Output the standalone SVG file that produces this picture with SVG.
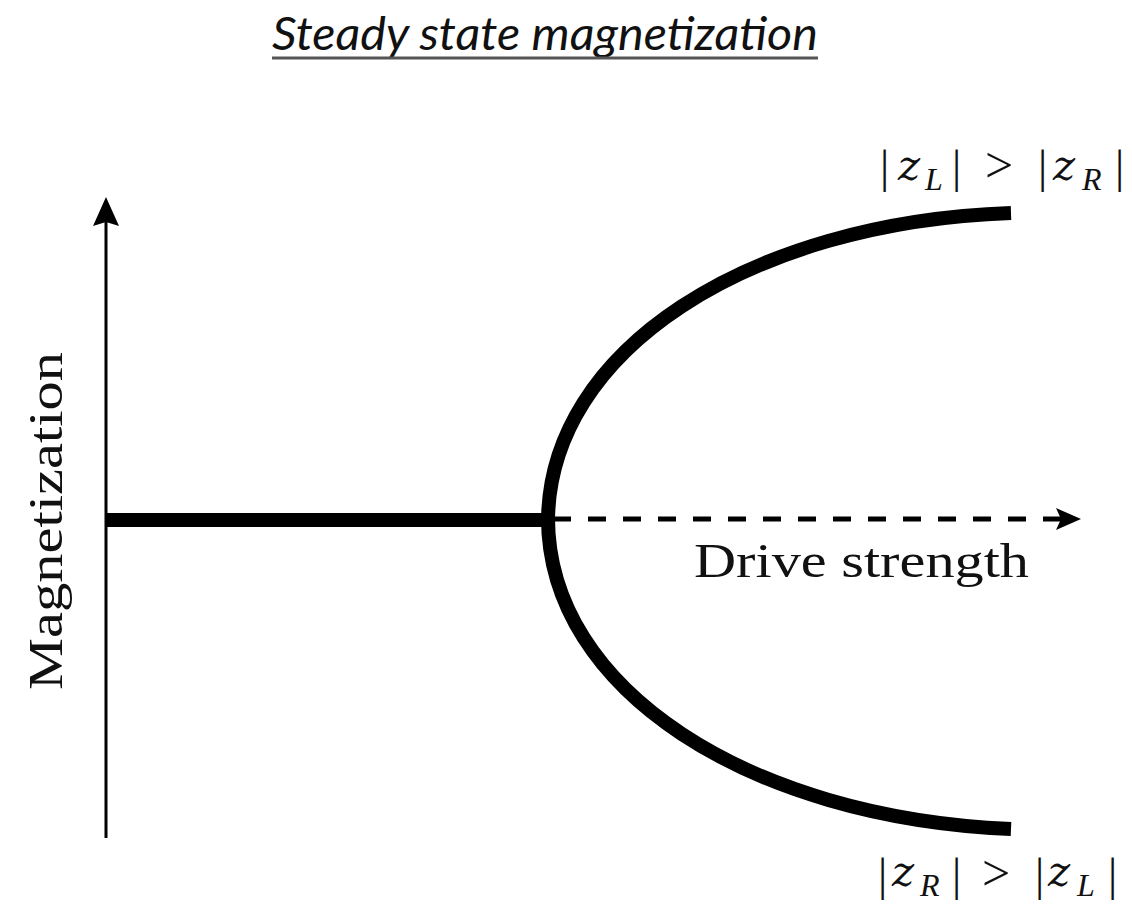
<svg xmlns="http://www.w3.org/2000/svg" width="1132" height="911" viewBox="0 0 1132 911">
  <style>
    .serif { font-family: "Liberation Serif", "DejaVu Serif", serif; fill: #111; }
    .ital { font-style: italic; }
    .mz { font-family: "DejaVu Serif", "Liberation Serif", serif; font-style: italic; }
    .thick { fill: none; stroke: #000; stroke-width: 14; }
  </style>
  <rect width="1132" height="911" fill="#fff"/>

  <g id="title">
    <text x="272" y="50" font-family="Lato, 'Open Sans', sans-serif" font-style="italic" font-size="47" fill="#111" textLength="546" lengthAdjust="spacingAndGlyphs">Steady state magnetization</text>
    <line x1="272" y1="58" x2="818" y2="58" stroke="#555" stroke-width="3"/>
  </g>

  <g id="connectors">
    <line id="y-axis" x1="106" y1="838" x2="106" y2="220" stroke="#000" stroke-width="3"/>
    <path d="M106,197 L119,226 L106,222 L93,226 z" fill="#000"/>
    <line id="x-axis-dashed" x1="548" y1="519" x2="1062" y2="519" stroke="#000" stroke-width="5" stroke-dasharray="18 17" stroke-dashoffset="-5"/>
    <path d="M1081,519 L1056,508 L1061,519 L1056,530 z" fill="#000"/>
  </g>

  <g id="branch-zero">
    <line class="thick" x1="106" y1="520" x2="548" y2="520"/>
  </g>
  <g id="branch-upper">
    <path class="thick" d="M548,522 C548,350 750,222 1011,213"/>
  </g>
  <g id="branch-lower">
    <path class="thick" d="M548,518 C548,690 750,818 1011,829"/>
  </g>

  <g id="label-drive">
    <text class="serif" x="694" y="577" font-size="48" textLength="335" lengthAdjust="spacingAndGlyphs">Drive strength</text>
  </g>
  <g id="label-magnetization">
    <text class="serif" transform="translate(62,690) rotate(-90)" font-size="48" textLength="338" lengthAdjust="spacingAndGlyphs">Magnetization</text>
  </g>

  <g id="label-top">
    <text class="serif" y="182" font-size="46"><tspan x="880">|</tspan><tspan class="mz" x="898" y="180" font-size="42">z</tspan><tspan class="ital" x="925" y="190" font-size="32">L</tspan><tspan x="952" y="182">|</tspan><tspan x="985" font-size="50">&gt;</tspan><tspan x="1038" font-size="46">|</tspan><tspan class="mz" x="1053" y="180" font-size="42">z</tspan><tspan class="ital" x="1082" y="190" font-size="32">R</tspan><tspan x="1115" y="182">|</tspan></text>
  </g>
  <g id="label-bottom">
    <text class="serif" y="890" font-size="46"><tspan x="878">|</tspan><tspan class="mz" x="892" y="886" font-size="42">z</tspan><tspan class="ital" x="920" y="896" font-size="32">R</tspan><tspan x="952" y="890">|</tspan><tspan x="982" font-size="50">&gt;</tspan><tspan x="1035" font-size="46">|</tspan><tspan class="mz" x="1048" y="886" font-size="42">z</tspan><tspan class="ital" x="1077" y="896" font-size="32">L</tspan><tspan x="1108" y="890">|</tspan></text>
  </g>
</svg>
